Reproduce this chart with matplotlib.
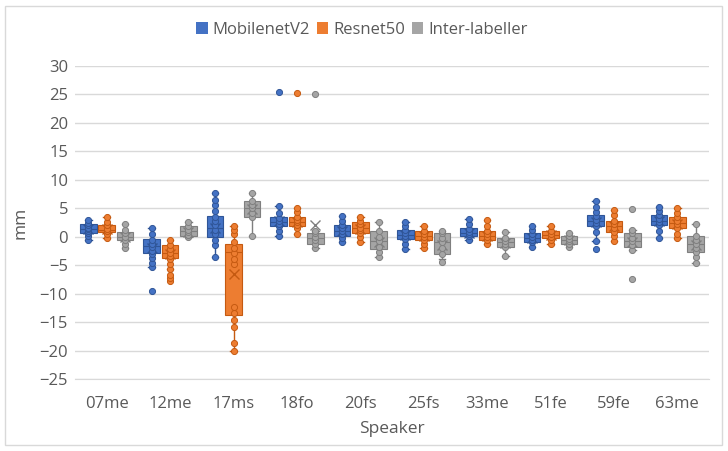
"""
Box plots of per-speaker error (mm) for MobilenetV2, Resnet50 and the inter-labeller spread.
"""

import matplotlib
matplotlib.use('Agg')
import matplotlib.pyplot as plt
from matplotlib.patches import Patch, Rectangle

plt.rcParams['font.family'] = ['Open Sans', 'DejaVu Sans']

speakers = ['07me', '12me', '17ms', '18fo', '20fs', '25fs', '33me', '51fe', '59fe', '63me']
series_names = ['MobilenetV2', 'Resnet50', 'Inter-labeller']

# MobilenetV2
mob_whislo = [-0.5, -5.3, -3.5, 0.2, -1.0, -2.1, -0.6, -1.8, -0.7, -0.3]
mob_q1 = [0.7, -2.8, -0.1, 1.9, 0.2, -0.4, 0.1, -0.9, 1.8, 2.0]
mob_med = [1.4, -1.6, 1.5, 2.6, 1.0, 0.3, 0.6, -0.3, 2.8, 2.8]
mob_q3 = [2.2, -0.4, 3.6, 3.4, 2.1, 1.2, 1.5, 0.6, 3.8, 3.8]
mob_whishi = [2.9, 1.5, 7.6, 5.4, 3.7, 2.5, 3.2, 1.9, 6.2, 5.3]
mob_mean = [1.3, -2.0, 1.5, 2.7, 1.0, 0.3, 0.7, -0.2, 2.6, 2.7]
mob_pts = [
    [-0.5, 0.2, 0.7, 1.0, 1.3, 1.6, 2.0, 2.4, 2.9],
    [-9.6, -5.3, -4.6, -3.8, -3.0, -2.5, -1.8, -1.2, -0.5, 0.5, 1.5],
    [-3.5, -1.5, -0.5, 0.5, 1.2, 2.0, 2.8, 3.5, 4.5, 5.5, 6.5, 7.6],
    [0.2, 1.0, 1.8, 2.3, 2.8, 3.3, 4.2, 5.4, 25.4],
    [-1.0, -0.2, 0.5, 1.0, 1.5, 2.0, 2.8, 3.7],
    [-2.1, -1.2, -0.4, 0.2, 0.6, 1.2, 1.8, 2.5],
    [-0.6, 0.1, 0.5, 0.9, 1.4, 2.2, 3.2],
    [-1.8, -1.0, -0.5, 0.0, 0.5, 1.2, 1.9],
    [-2.2, -0.7, 0.8, 1.8, 2.4, 3.0, 3.6, 4.4, 5.2, 6.2],
    [-0.3, 1.0, 2.0, 2.6, 3.2, 3.8, 4.5, 5.3],
]

# Resnet50
res_whislo = [-0.3, -5.7, -20.0, 0.4, -1.0, -2.0, -1.2, -1.2, -0.7, -0.3]
res_q1 = [0.8, -3.7, -13.8, 1.8, 0.6, -0.5, -0.5, -0.3, 0.8, 1.6]
res_med = [1.2, -2.8, -2.6, 2.5, 1.5, 0.2, 0.2, 0.3, 1.8, 2.4]
res_q3 = [2.0, -1.5, -1.3, 3.5, 2.5, 1.0, 1.0, 1.0, 2.8, 3.4]
res_whishi = [3.5, -0.6, 1.9, 5.1, 3.5, 1.9, 2.9, 1.9, 4.7, 5.0]
res_mean = [1.3, -3.0, -6.5, 2.6, 1.4, 0.2, 0.2, 0.3, 1.8, 2.3]
res_pts = [
    [-0.3, 0.5, 1.0, 1.4, 2.0, 2.6, 3.5],
    [-7.8, -7.3, -6.8, -5.7, -4.8, -4.0, -3.4, -2.8, -2.2, -1.5, -0.6],
    [-20.0, -18.7, -15.9, -14.6, -13.4, -12.4, -4.8, -3.9, -2.9, -2.0, -1.0, 0.5, 1.2, 1.9],
    [0.4, 1.5, 2.0, 2.5, 3.0, 3.5, 4.3, 5.1, 25.3],
    [-1.0, 0.0, 0.6, 1.2, 1.6, 2.2, 2.8, 3.5],
    [-2.0, -1.2, -0.5, 0.0, 0.4, 1.0, 1.9],
    [-1.2, -0.5, 0.0, 0.4, 1.0, 1.8, 2.9],
    [-1.2, -0.5, 0.0, 0.4, 1.0, 1.9],
    [-0.7, 0.2, 0.8, 1.5, 2.2, 2.8, 3.8, 4.7],
    [-0.3, 0.5, 1.6, 2.2, 2.8, 3.4, 4.2, 5.0],
]

# Inter-labeller
int_whislo = [-2.0, 0.0, 0.2, -1.9, -3.5, -4.0, -3.4, -1.8, -2.3, -4.7]
int_q1 = [-0.6, 0.1, 3.5, -1.2, -2.1, -3.0, -1.8, -1.3, -1.8, -2.7]
int_med = [0.0, 1.0, 5.0, -0.3, -0.8, -0.9, -1.0, -0.6, -0.8, -1.3]
int_q3 = [0.8, 1.9, 6.2, 0.6, 1.0, 0.6, -0.3, 0.2, 0.6, 0.1]
int_whishi = [2.2, 2.5, 7.6, 1.0, 2.5, 1.0, 0.9, 0.6, 1.2, 2.2]
int_mean = [-0.1, 0.9, 4.8, 2.0, -0.9, -1.4, -1.1, -0.6, -1.0, -1.4]
int_pts = [
    [-2.0, -1.2, -0.5, 0.0, 0.6, 1.2, 2.2],
    [0.0, 0.3, 0.8, 1.2, 1.8, 2.5],
    [0.2, 3.5, 4.2, 5.0, 5.6, 6.2, 7.6],
    [-1.9, -1.2, -0.6, 0.0, 0.6, 1.0, 25.0],
    [-3.5, -2.6, -1.8, -0.8, 0.0, 1.0, 2.5],
    [-4.4, -3.0, -2.0, -1.0, -0.3, 0.6, 1.0],
    [-3.4, -1.8, -1.3, -0.8, -0.3, 0.9],
    [-1.8, -1.3, -0.8, -0.4, 0.2, 0.6],
    [-7.4, -2.3, -1.5, -0.8, -0.2, 0.6, 1.2, 4.8],
    [-4.7, -3.5, -2.7, -2.0, -1.3, -0.6, 0.1, 2.2],
]

colors = ['#4472C4', '#ED7D31', '#A5A5A5']
edges = ['#2F5597', '#C55A11', '#7F7F7F']
text_color = '#595959'

series = [
    (mob_whislo, mob_q1, mob_med, mob_q3, mob_whishi, mob_mean, mob_pts),
    (res_whislo, res_q1, res_med, res_q3, res_whishi, res_mean, res_pts),
    (int_whislo, int_q1, int_med, int_q3, int_whishi, int_mean, int_pts),
]

fig = plt.figure(figsize=(7.28, 4.51), dpi=100)
ax = fig.add_axes([75 / 728, 1 - 379 / 451, (709 - 75) / 728, (379 - 66) / 451])

offsets = [-0.29, 0.0, 0.29]
width = 0.26

for k, (lo, q1, med, q3, hi, mean, pts) in enumerate(series):
    stats = []
    for i in range(len(speakers)):
        stats.append({'whislo': lo[i], 'q1': q1[i], 'med': med[i], 'q3': q3[i],
                      'whishi': hi[i], 'mean': mean[i], 'fliers': []})
    pos = [i + offsets[k] for i in range(len(speakers))]
    ax.bxp(stats, positions=pos, widths=width, patch_artist=True,
           showmeans=True, showfliers=False, manage_ticks=False,
           boxprops=dict(facecolor=colors[k], edgecolor=edges[k], linewidth=0.8),
           medianprops=dict(color=edges[k], linewidth=0.8),
           whiskerprops=dict(color=edges[k], linewidth=1.0),
           capprops=dict(color=edges[k], linewidth=1.0),
           capwidths=width * 0.4,
           meanprops=dict(marker='x', markeredgecolor=edges[k], markersize=7,
                          markeredgewidth=1.0),
           zorder=3)
    for i, p in enumerate(pts):
        ax.plot([pos[i]] * len(p), p, 'o', ms=4.4, mfc=colors[k], mec=edges[k],
                mew=0.7, zorder=4, linestyle='none')

ax.set_xlim(-0.5, len(speakers) - 0.5)
ax.set_ylim(-25, 30)
ax.set_yticks(range(-25, 31, 5))
ax.set_xticks(range(len(speakers)))
ax.set_xticklabels(speakers)
ax.yaxis.grid(True, color='#D9D9D9', linewidth=1.0, zorder=0)
ax.set_axisbelow(True)
for s in ['top', 'right', 'left']:
    ax.spines[s].set_visible(False)
ax.spines['bottom'].set_color('#D9D9D9')
ax.tick_params(axis='both', length=0, labelsize=12, colors=text_color)
ax.tick_params(axis='x', pad=12)
ax.tick_params(axis='y', pad=5)

ax.set_xlabel('Speaker', fontsize=12.5, color=text_color, labelpad=7)
ax.set_ylabel('mm', fontsize=12.5, color=text_color, labelpad=8)

handles = [Patch(facecolor=c, edgecolor='none') for c in colors]
fig.legend(handles, series_names, loc='center', bbox_to_anchor=(0.497, 1 - 30 / 451),
           ncol=3, frameon=False, fontsize=12, handlelength=0.7, handleheight=0.7,
           handletextpad=0.3, columnspacing=0.4, labelcolor=text_color)

fig.patches.append(Rectangle((5 / 728, 6 / 451), 717 / 728, 439 / 451,
                             transform=fig.transFigure, fill=False,
                             edgecolor='#D9D9D9', linewidth=1.0))

plt.savefig('out.png', dpi=100)
